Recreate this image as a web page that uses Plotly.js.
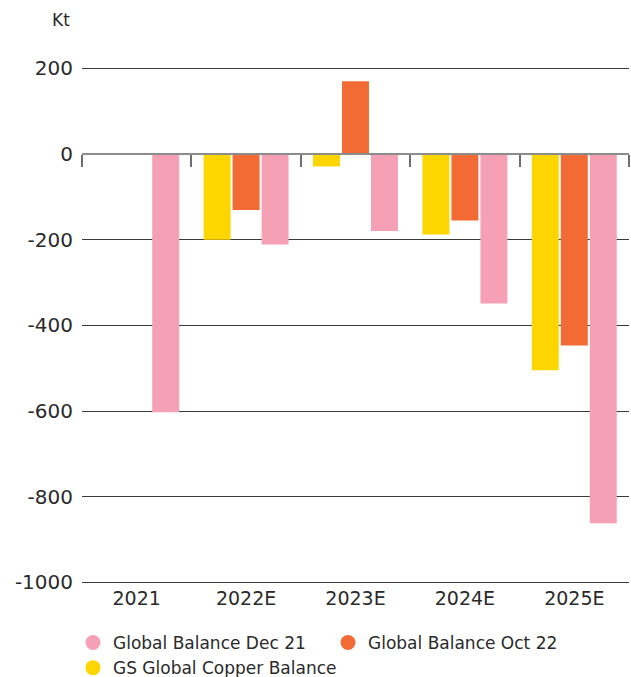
<!DOCTYPE html>
<html>
<head>
<meta charset="utf-8">
<script src="https://cdn.plot.ly/plotly-3.0.1.min.js"></script>
<style>html,body{margin:0;padding:0;background:#fff;}#chart{width:631px;height:677px;}</style>
</head>
<body>
<div id="chart"></div>
<script>
var categories = ["2021", "2022E", "2023E", "2024E", "2025E"];
var gsCopperBalance = [null, -200, -29, -188, -505];
var balanceOct22 = [null, -131, 170, -155, -447];
var balanceDec21 = [-603, -211, -180, -349, -862];
var yTicks = [200, 0, -200, -400, -600, -800, -1000];

var cPink = "#F6A0B6", cOrange = "#F26B35", cYellow = "#FDD500";
var FONT = "DejaVu Sans";
var Y_RANGE = [-1006, 203];

var bars = [
  {name: "GS Global Copper Balance", y: gsCopperBalance, color: cYellow},
  {name: "Global Balance Oct 22", y: balanceOct22, color: cOrange},
  {name: "Global Balance Dec 21", y: balanceDec21, color: cPink}
].map(function (s) {
  return {type: "bar", x: categories, y: s.y, name: s.name, marker: {color: s.color},
          showlegend: false, hoverinfo: "x+y+name"};
});

var legendItems = [
  {name: "Global Balance Dec 21", color: cPink},
  {name: "Global Balance Oct 22", color: cOrange},
  {name: "GS Global Copper Balance", color: cYellow}
].map(function (s) {
  return {type: "scatter", mode: "markers", x: [null], y: [null], name: s.name,
          marker: {color: s.color, size: 15, symbol: "circle"}, showlegend: true, hoverinfo: "skip"};
});

var dummy = {type: "scatter", x: [null], y: [null], xaxis: "x2", yaxis: "y", showlegend: false, hoverinfo: "skip"};

var boundaries = [];
for (var i = 0; i <= categories.length; i++) boundaries.push(i - 0.5);

var plotTop = 67, plotH = 677 - 67 - 92;

var layout = {
  width: 631, height: 677,
  margin: {l: 82, r: 2, t: 67, b: 92},
  paper_bgcolor: "#fff", plot_bgcolor: "#fff",
  font: {family: FONT, color: "#2a2a2a", size: 18},
  barmode: "group", bargap: 0.205, bargroupgap: 0.07,
  xaxis: {type: "category", categoryarray: categories, categoryorder: "array",
          showgrid: false, showline: false, zeroline: false, ticks: "",
          tickfont: {size: 19, family: FONT, color: "#2a2a2a"}, ticklabelstandoff: 0},
  xaxis2: {overlaying: "x", anchor: "free", position: (0 - Y_RANGE[0]) / (Y_RANGE[1] - Y_RANGE[0]), type: "linear",
           range: [-0.5, categories.length - 0.5], tickvals: boundaries, showticklabels: false,
           ticks: "outside", ticklen: 12, tickwidth: 2, tickcolor: "#6f6f6f",
           showline: true, linecolor: "#8c8c8c", linewidth: 2, showgrid: false, zeroline: false},
  yaxis: {range: Y_RANGE, tickvals: yTicks, ticktext: yTicks.map(String),
          showgrid: true, gridcolor: "#3a3a3a", gridwidth: 1, zeroline: false, showline: false,
          ticks: "", tickfont: {size: 20, family: FONT, color: "#2a2a2a"}, ticklabelstandoff: 8},
  legend: {orientation: "h", xref: "container", yref: "container", x: 73 / 631, xanchor: "left",
           y: 1 - 625 / 677, yanchor: "top",
           traceorder: "normal", font: {size: 17, family: FONT, color: "#2a2a2a"},
           entrywidth: 210, entrywidthmode: "pixels", bgcolor: "rgba(0,0,0,0)"},
  annotations: [{text: "Kt", xref: "paper", yref: "paper", x: -10 / 547, y: 1 + (plotTop - 20) / plotH,
                 xanchor: "right", yanchor: "middle", showarrow: false,
                 font: {size: 17, family: FONT, color: "#2a2a2a"}}],
  showlegend: true
};

Plotly.newPlot("chart", bars.concat(legendItems).concat([dummy]), layout, {displayModeBar: false, staticPlot: true});
</script>
</body>
</html>
